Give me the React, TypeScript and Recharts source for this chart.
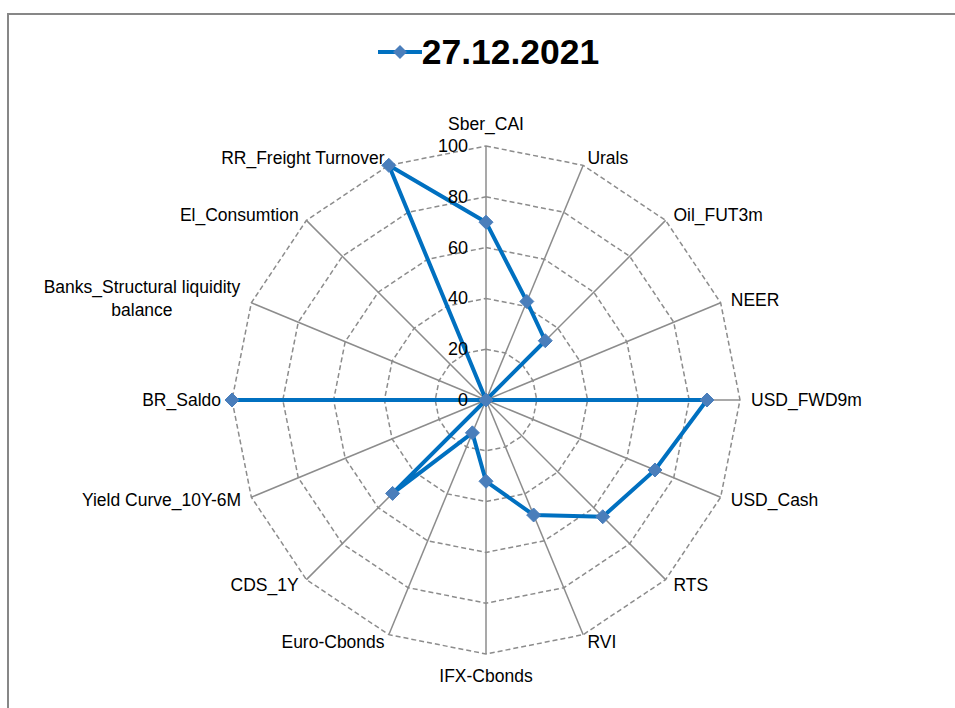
import { RadarChart, Radar, PolarGrid, PolarAngleAxis, PolarRadiusAxis, Legend } from 'recharts';

const categories = [
  'Sber_CAI',
  'Urals',
  'Oil_FUT3m',
  'NEER',
  'USD_FWD9m',
  'USD_Cash',
  'RTS',
  'RVI',
  'IFX-Cbonds',
  'Euro-Cbonds',
  'CDS_1Y',
  'Yield Curve_10Y-6M',
  'BR_Saldo',
  'Banks_Structural liquidity balance',
  'El_Consumtion',
  'RR_Freight Turnover',
];

const values = [70, 42, 33, 0, 87, 72, 65, 49, 32, 14, 52, 0, 100, 0, 0, 100];

const seriesName = '27.12.2021';

const data = categories.map((name, i) => ({ name, value: values[i] }));

const CX = 486;
const CY = 400;
const LINE_COLOR = '#0070C0';
const DOT_COLOR = '#4A7EBB';
const GRID_COLOR = '#8C8C8C';
const FONT = '"Liberation Sans", Arial, sans-serif';
const LABEL_SIZE = 17.5;

const renderDiamond = (props: any) => {
  const { cx, cy, index } = props;
  const s = 7;
  return (
    <path
      key={`dot-${index}`}
      d={`M${cx},${cy - s}L${cx + s},${cy}L${cx},${cy + s}L${cx - s},${cy}Z`}
      fill={DOT_COLOR}
      stroke={DOT_COLOR}
    />
  );
};

const renderAngleTick = (props: any) => {
  const { x, y, payload, textAnchor } = props;
  const dx = x - CX;
  const dy = y - CY;
  const len = Math.hypot(dx, dy) || 1;
  const value: string = payload.value;

  // the long banks label wraps onto two centred lines, like the original
  if (value.startsWith('Banks_')) {
    const parts = ['Banks_Structural liquidity', 'balance'];
    return (
      <text x={x - 102} y={y} textAnchor="middle" fontSize={LABEL_SIZE} fontFamily={FONT} fill="#000">
        <tspan x={x - 102} y={y - 13} dominantBaseline="central">{parts[0]}</tspan>
        <tspan x={x - 102} y={y + 10} dominantBaseline="central">{parts[1]}</tspan>
      </text>
    );
  }

  let ty = y;
  let tx = x;
  if (textAnchor === 'middle') {
    ty = y + (dy / len) * 14;
  } else {
    tx = x + (dx / len) * 3;
  }

  return (
    <text
      x={tx}
      y={ty}
      textAnchor={textAnchor}
      dominantBaseline="central"
      fontSize={LABEL_SIZE}
      fontFamily={FONT}
      fill="#000"
    >
      {value}
    </text>
  );
};

const renderRadiusTick = (props: any) => {
  const { x, y, payload } = props;
  return (
    <text
      x={x - 18}
      y={y}
      textAnchor="end"
      dominantBaseline="central"
      fontSize={18}
      fontFamily={FONT}
      fill="#000"
    >
      {payload.value}
    </text>
  );
};

const renderLegend = () => (
  <div
    style={{
      display: 'flex',
      alignItems: 'center',
      justifyContent: 'center',
      paddingLeft: 22,
      fontFamily: FONT,
      fontWeight: 'bold',
      fontSize: 35.5,
      color: '#000',
      lineHeight: '42px',
    }}
  >
    <svg width={44} height={20} style={{ marginRight: 0 }}>
      <line x1={0} y1={10} x2={44} y2={10} stroke={LINE_COLOR} strokeWidth={4} />
      <path d="M22,3L29,10L22,17L15,10Z" fill={DOT_COLOR} />
    </svg>
    <span>{seriesName}</span>
  </div>
);

export default function App() {
  return (
    <div style={{ position: 'absolute', left: 0, top: 0, width: 955, height: 708, background: '#fff' }}>
      <div
        style={{
          position: 'absolute',
          left: 7,
          top: 13,
          width: 948,
          height: 695,
          borderTop: '2px solid #878787',
          borderLeft: '2px solid #878787',
          boxSizing: 'border-box',
        }}
      />
      <div style={{ position: 'absolute', left: 0, top: 0 }}>
        <RadarChart width={955} height={708} data={data} cx={CX} cy={CY} outerRadius={254}>
          <PolarGrid
            gridType="polygon"
            polarRadius={[]}
            radialLines
            stroke={GRID_COLOR}
            strokeWidth={1.5}
          />
          <PolarGrid
            gridType="polygon"
            radialLines={false}
            stroke={GRID_COLOR}
            strokeWidth={1.5}
            strokeDasharray="5 3"
          />
          <PolarAngleAxis dataKey="name" axisLine={false} tickLine={false} tick={renderAngleTick} />
          <PolarRadiusAxis
            angle={90}
            domain={[0, 100]}
            tickCount={6}
            axisLine={false}
            tickLine={false}
            tick={renderRadiusTick}
          />
          <Radar
            name={seriesName}
            dataKey="value"
            stroke={LINE_COLOR}
            strokeWidth={4}
            fill="none"
            fillOpacity={0}
            dot={renderDiamond}
            isAnimationActive={false}
          />
          <Legend
            verticalAlign="top"
            content={renderLegend}
            wrapperStyle={{ top: 31, left: 0, width: 955 }}
          />
        </RadarChart>
      </div>
    </div>
  );
}
